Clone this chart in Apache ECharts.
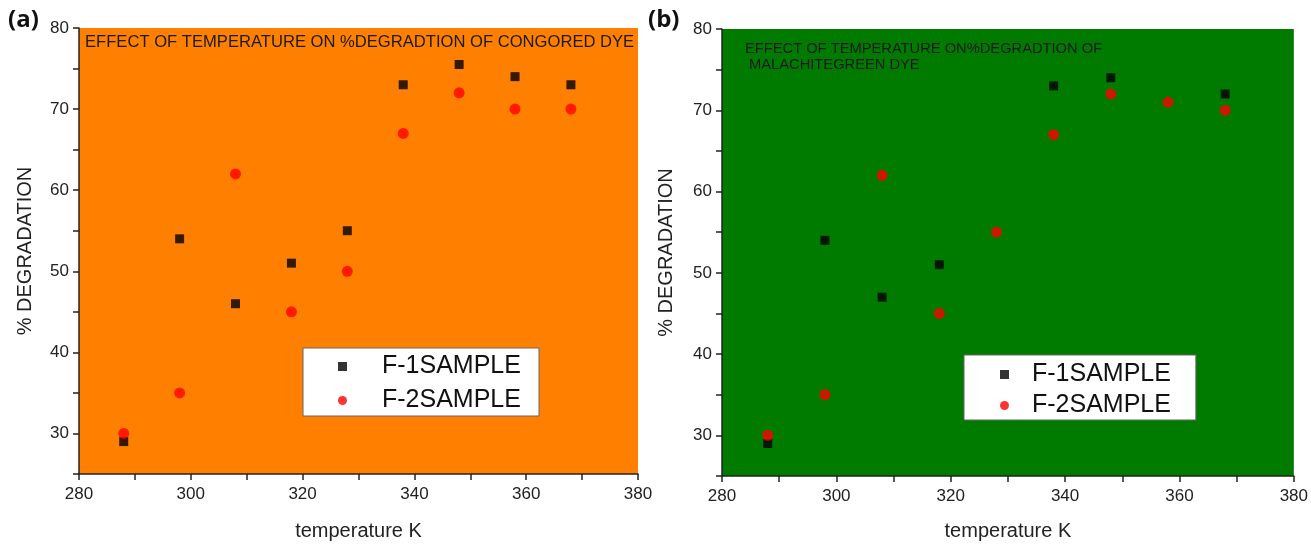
<!DOCTYPE html>
<html>
<head>
<meta charset="utf-8">
<script src="https://cdn.jsdelivr.net/npm/echarts@6/dist/echarts.min.js"></script>
<style>html,body{margin:0;padding:0;background:#fff;}#c{width:1311px;height:546px;}</style>
</head>
<body>
<div id="c"></div>
<script>
// ---- data ----
const temps = [288, 298, 308, 318, 328, 338, 348, 358, 368];
const congoF1 = [29, 54, 46, 51, 55, 73, 75.5, 74, 73];
const congoF2 = [30, 35, 62, 45, 50, 67, 72, 70, 70];
const malaF1 = [29, 54, 47, 51, null, 73, 74, null, 72];
const malaF2 = [30, 35, 62, 45, 55, 67, 72, 71, 70];
const seriesNames = ['F-1SAMPLE', 'F-2SAMPLE'];
const panelTitles = ['EFFECT OF TEMPERATURE ON %DEGRADTION OF CONGORED DYE', 'EFFECT OF TEMPERATURE ON%DEGRADTION OF\n MALACHITEGREEN DYE'];
const panelTags = ['(a)', '(b)'];
const xName = 'temperature K';
const yName = '% DEGRADATION';

function pairs(xs, ys) { return xs.map((x, i) => [x, ys[i]]).filter(p => p[1] !== null); }

const font = 'Liberation Sans, Arial, sans-serif';

function xAxis(gi, gap) {
  return {
    type: 'value', gridIndex: gi, min: 280, max: 380, interval: 10,
    name: xName, nameLocation: 'middle', nameGap: gap,
    nameTextStyle: { fontFamily: font, fontSize: 20, color: '#222' },
    axisLine: { show: true, onZero: false, lineStyle: { color: '#222', width: 1.5 } },
    axisTick: { show: true, inside: false, length: 6, lineStyle: { color: '#222', width: 1.5 } },
    axisLabel: { fontFamily: font, fontSize: 17, color: '#222', margin: 12,
      formatter: v => (v % 20 === 0 ? String(v) : '') },
    splitLine: { show: false }
  };
}
function yAxis(gi, gap) {
  return {
    type: 'value', gridIndex: gi, min: 25, max: 80, interval: 5,
    name: yName, nameLocation: 'middle', nameGap: gap, nameRotate: 90,
    nameTextStyle: { fontFamily: font, fontSize: 20, color: '#222' },
    axisLine: { show: true, onZero: false, lineStyle: { color: '#222', width: 1.5 } },
    axisTick: { show: true, inside: false, length: 6, lineStyle: { color: '#222', width: 1.5 } },
    axisLabel: { fontFamily: font, fontSize: 17, color: '#222', margin: 10,
      formatter: v => (v % 10 === 0 ? String(v) : '') },
    splitLine: { show: false }
  };
}
function legend(gi, left, top, pad, gap, textPad, textW) {
  return {
    orient: 'vertical', left: left, top: top, itemWidth: 9, itemHeight: 9, itemGap: gap,
    padding: pad, backgroundColor: '#fff', borderColor: '#666', borderWidth: 1,
    textStyle: { fontFamily: font, fontSize: 25, color: '#111', lineHeight: 22, width: textW, padding: [0, 0, 0, textPad] },
    data: [
      { name: seriesNames[0] + (gi ? ' ' : ''), icon: 'rect' },
      { name: seriesNames[1] + (gi ? ' ' : ''), icon: 'circle' }
    ]
  };
}
const chart = echarts.init(document.getElementById('c'), null, { renderer: 'canvas' });
chart.setOption({
  animation: false,
  backgroundColor: '#fff',
  title: [
    { text: panelTitles[0], left: 85, top: 34, padding: 0, textStyle: { fontFamily: font, fontSize: 16.6, fontWeight: 'normal', color: '#1a1a1a' } },
    { text: panelTitles[1], left: 745, top: 41, padding: 0, textStyle: { fontFamily: font, fontSize: 14.7, fontWeight: 'normal', color: '#1a1a1a', lineHeight: 16 } },
    { text: panelTags[0], left: 8, top: 8, padding: 0, textStyle: { fontFamily: 'Open Sans, sans-serif', fontSize: 24, fontWeight: 'bold', color: '#111' } },
    { text: panelTags[1], left: 648, top: 8, padding: 0, textStyle: { fontFamily: 'Open Sans, sans-serif', fontSize: 24, fontWeight: 'bold', color: '#111' } }
  ],
  grid: [
    { left: 79, right: 673, top: 28, bottom: 68, show: true, backgroundColor: '#FF8000', borderWidth: 0, containLabel: false },
    { left: 722, right: 15, top: 29, bottom: 63, show: true, backgroundColor: '#007B00', borderWidth: 0, containLabel: false }
  ],
  xAxis: [xAxis(0, 47), xAxis(1, 45)],
  yAxis: [yAxis(0, 44), yAxis(1, 46)],
  legend: [
    legend(0, 303, 348, [6, 12, 3, 35], 9, 30, 145),
    legend(1, 964, 355, [7, 18, 2, 36], 6, 18, 140)
  ],
  series: [
    { name: seriesNames[0], type: 'scatter', xAxisIndex: 0, yAxisIndex: 0, symbol: 'rect', symbolSize: 9, itemStyle: { color: '#000' }, data: pairs(temps, congoF1) },
    { name: seriesNames[1], type: 'scatter', xAxisIndex: 0, yAxisIndex: 0, symbol: 'circle', symbolSize: 11, itemStyle: { color: '#FF0000' }, data: pairs(temps, congoF2) },
    { name: seriesNames[0] + ' ', type: 'scatter', xAxisIndex: 1, yAxisIndex: 1, symbol: 'rect', symbolSize: 9, itemStyle: { color: '#000' }, data: pairs(temps, malaF1) },
    { name: seriesNames[1] + ' ', type: 'scatter', xAxisIndex: 1, yAxisIndex: 1, symbol: 'circle', symbolSize: 11, itemStyle: { color: '#FF0000' }, data: pairs(temps, malaF2) }
  ]
});
</script>
</body>
</html>
